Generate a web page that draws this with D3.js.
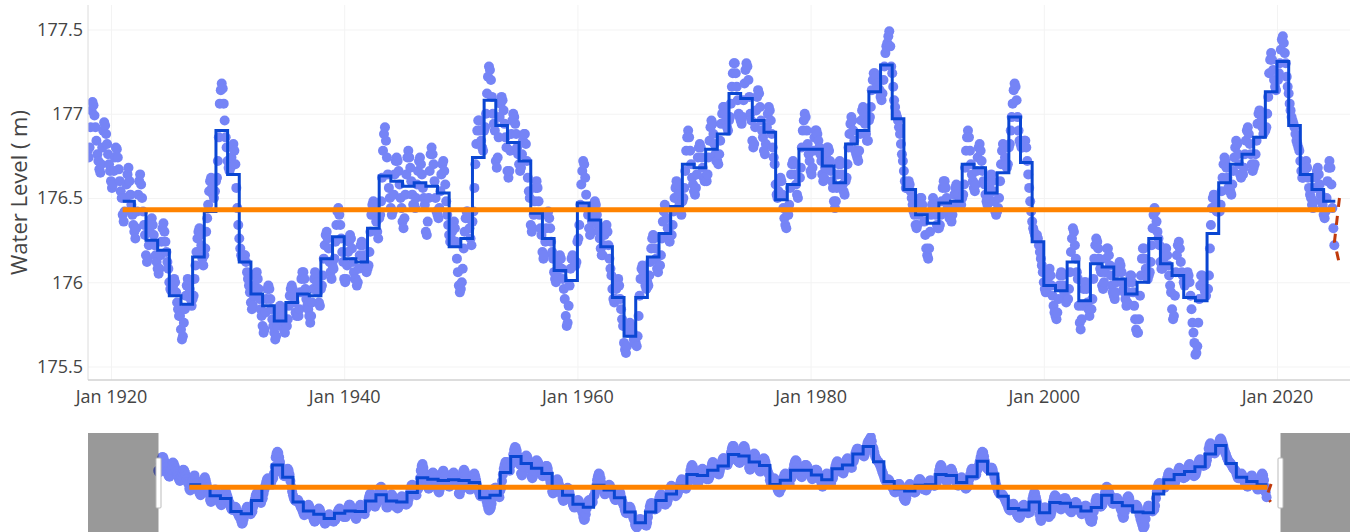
<!DOCTYPE html>
<html>
<head>
<meta charset="utf-8">
<script src="https://cdnjs.cloudflare.com/ajax/libs/d3/7.8.5/d3.min.js"></script>
<style>
  body { margin: 0; background: #fff; }
  svg { display: block; font-family: 'Open Sans', sans-serif; }
</style>
</head>
<body>
<script>
// monthly mean water level (m), one row per year, Jan..Dec
var FIRST_YEAR = 1918;
var monthlyLevels = [
  [176.78,176.74,176.80,176.92,177.02,177.07,177.05,176.99,176.92,176.84,176.76,176.72],
  [176.67,176.65,176.70,176.80,176.90,176.95,176.93,176.88,176.82,176.76,176.70,176.66],
  [176.60,176.56,176.58,176.66,176.74,176.80,176.79,176.74,176.67,176.60,176.54,176.50],
  [176.40,176.36,176.42,176.50,176.58,176.64,176.68,176.60,176.52,176.46,176.40,176.34],
  [176.30,176.26,176.32,176.42,176.52,176.60,176.64,176.58,176.50,176.42,176.34,176.28],
  [176.16,176.12,176.14,176.22,176.30,176.36,176.38,176.34,176.28,176.22,176.16,176.12],
  [176.08,176.05,176.08,176.16,176.24,176.32,176.35,176.30,176.24,176.18,176.12,176.08],
  [176.00,175.96,175.95,175.96,175.98,176.02,176.00,175.94,175.88,175.84,175.80,175.80],
  [175.72,175.66,175.68,175.76,175.84,175.92,175.98,176.02,176.00,175.96,175.90,175.86],
  [175.90,175.92,176.02,176.10,176.18,176.26,176.30,176.32,176.28,176.22,176.14,176.10],
  [176.16,176.20,176.30,176.38,176.46,176.54,176.60,176.62,176.56,176.52,176.50,176.54],
  [176.60,176.62,176.72,176.86,177.06,177.14,177.18,177.15,177.06,176.96,176.86,176.80],
  [176.72,176.68,176.66,176.68,176.74,176.80,176.82,176.78,176.70,176.56,176.44,176.34],
  [176.26,176.20,176.16,176.14,176.14,176.16,176.16,176.12,176.06,176.02,175.98,175.94],
  [175.88,175.84,175.86,175.92,175.98,176.04,176.06,176.02,175.96,175.90,175.84,175.80],
  [175.74,175.70,175.72,175.82,175.90,175.96,175.98,175.96,175.90,175.84,175.78,175.74],
  [175.70,175.66,175.68,175.74,175.80,175.84,175.86,175.84,175.80,175.76,175.72,175.70],
  [175.76,175.74,175.78,175.86,175.92,175.96,175.98,175.96,175.92,175.88,175.82,175.80],
  [175.82,175.80,175.84,175.94,176.02,176.06,176.06,176.02,175.96,175.90,175.86,175.84],
  [175.80,175.76,175.80,175.88,175.96,176.02,176.06,176.04,176.00,175.94,175.88,175.86],
  [175.96,175.98,176.04,176.14,176.22,176.28,176.30,176.26,176.20,176.12,176.06,176.02],
  [176.10,176.08,176.14,176.24,176.34,176.42,176.44,176.40,176.34,176.26,176.18,176.12],
  [176.02,176.00,176.02,176.10,176.18,176.24,176.28,176.26,176.20,176.12,176.06,176.02],
  [176.02,175.98,176.00,176.08,176.16,176.22,176.24,176.22,176.16,176.12,176.08,176.06],
  [176.08,176.10,176.18,176.30,176.40,176.46,176.48,176.46,176.42,176.36,176.30,176.26],
  [176.38,176.40,176.48,176.62,176.78,176.88,176.92,176.84,176.74,176.64,176.56,176.50],
  [176.44,176.40,176.42,176.52,176.64,176.72,176.74,176.72,176.66,176.58,176.50,176.44],
  [176.36,176.32,176.38,176.52,176.64,176.74,176.78,176.74,176.68,176.60,176.52,176.46],
  [176.46,176.44,176.50,176.58,176.66,176.72,176.74,176.70,176.64,176.56,176.50,176.46],
  [176.30,176.28,176.36,176.50,176.66,176.76,176.80,176.76,176.70,176.60,176.50,176.42],
  [176.40,176.38,176.44,176.54,176.64,176.70,176.72,176.66,176.58,176.48,176.40,176.34],
  [176.28,176.24,176.26,176.30,176.34,176.36,176.32,176.24,176.14,176.06,175.98,175.94],
  [175.96,176.00,176.08,176.20,176.30,176.38,176.42,176.42,176.38,176.32,176.26,176.22],
  [176.36,176.42,176.56,176.70,176.82,176.90,176.96,176.96,176.90,176.84,176.80,176.78],
  [176.90,176.92,177.00,177.12,177.22,177.28,177.26,177.20,177.10,177.00,176.94,176.90],
  [176.72,176.68,176.74,176.86,176.98,177.06,177.10,177.08,177.02,176.94,176.86,176.80],
  [176.66,176.62,176.66,176.78,176.88,176.96,177.00,176.98,176.94,176.88,176.80,176.76],
  [176.70,176.66,176.68,176.76,176.84,176.88,176.88,176.82,176.72,176.62,176.54,176.50],
  [176.34,176.30,176.32,176.40,176.48,176.56,176.60,176.56,176.48,176.40,176.32,176.28],
  [176.18,176.14,176.16,176.24,176.32,176.40,176.42,176.38,176.32,176.24,176.18,176.14],
  [176.06,176.02,176.00,176.04,176.10,176.14,176.16,176.14,176.08,176.02,175.96,175.90],
  [175.80,175.74,175.76,175.86,175.98,176.08,176.14,176.16,176.14,176.12,176.10,176.12],
  [176.24,176.26,176.34,176.46,176.58,176.66,176.72,176.70,176.62,176.52,176.44,176.40],
  [176.32,176.28,176.30,176.36,176.42,176.46,176.48,176.46,176.40,176.34,176.30,176.26],
  [176.20,176.16,176.16,176.22,176.28,176.32,176.34,176.30,176.22,176.14,176.08,176.04],
  [175.96,175.90,175.88,175.90,175.96,176.00,176.02,175.98,175.90,175.84,175.78,175.74],
  [175.64,175.60,175.58,175.62,175.70,175.74,175.76,175.74,175.72,175.70,175.66,175.64],
  [175.64,175.62,175.68,175.80,175.92,176.02,176.08,176.10,176.06,176.02,175.98,175.96],
  [176.00,175.98,176.04,176.12,176.20,176.26,176.28,176.26,176.20,176.14,176.08,176.06],
  [176.10,176.10,176.16,176.26,176.36,176.42,176.46,176.44,176.38,176.32,176.28,176.24],
  [176.28,176.28,176.34,176.42,176.50,176.56,176.60,176.58,176.52,176.46,176.42,176.40],
  [176.48,176.50,176.56,176.66,176.78,176.86,176.90,176.86,176.78,176.70,176.62,176.58],
  [176.54,176.52,176.56,176.64,176.74,176.80,176.82,176.80,176.74,176.68,176.62,176.60],
  [176.62,176.60,176.64,176.74,176.84,176.92,176.96,176.94,176.88,176.82,176.76,176.72],
  [176.72,176.70,176.76,176.84,176.94,177.00,177.04,177.04,177.00,176.96,176.92,176.90],
  [176.96,176.98,177.06,177.16,177.24,177.30,177.30,177.24,177.16,177.08,177.00,176.98],
  [176.96,176.94,176.98,177.08,177.18,177.26,177.30,177.28,177.20,177.10,177.00,176.96],
  [176.84,176.80,176.82,176.92,177.02,177.10,177.14,177.12,177.04,176.96,176.90,176.86],
  [176.78,176.76,176.82,176.92,177.00,177.04,177.02,176.96,176.88,176.80,176.74,176.70],
  [176.58,176.52,176.50,176.54,176.60,176.62,176.60,176.52,176.44,176.38,176.34,176.32],
  [176.40,176.40,176.46,176.56,176.64,176.70,176.72,176.70,176.64,176.58,176.52,176.50],
  [176.62,176.62,176.68,176.80,176.90,176.96,177.00,176.98,176.90,176.82,176.76,176.72],
  [176.66,176.64,176.68,176.78,176.86,176.90,176.90,176.88,176.84,176.80,176.76,176.72],
  [176.64,176.60,176.62,176.68,176.76,176.80,176.80,176.78,176.72,176.66,176.60,176.56],
  [176.48,176.44,176.48,176.56,176.64,176.70,176.72,176.70,176.64,176.58,176.54,176.52],
  [176.60,176.62,176.70,176.80,176.88,176.94,176.98,176.96,176.90,176.84,176.78,176.76],
  [176.74,176.72,176.78,176.88,176.96,177.02,177.04,177.00,176.94,176.88,176.84,176.84],
  [176.96,176.98,177.04,177.14,177.20,177.24,177.24,177.22,177.18,177.16,177.14,177.14],
  [177.10,177.08,177.12,177.20,177.28,177.36,177.40,177.42,177.46,177.49,177.40,177.28],
  [177.24,177.16,177.08,177.04,177.00,176.98,176.96,176.92,176.88,176.82,176.76,176.72],
  [176.66,176.60,176.56,176.56,176.58,176.60,176.58,176.54,176.50,176.46,176.42,176.40],
  [176.34,176.32,176.34,176.40,176.46,176.50,176.50,176.46,176.42,176.36,176.28,176.20],
  [176.16,176.14,176.20,176.30,176.40,176.46,176.50,176.48,176.44,176.40,176.34,176.32],
  [176.32,176.34,176.40,176.48,176.56,176.60,176.60,176.56,176.50,176.44,176.40,176.38],
  [176.38,176.36,176.40,176.46,176.52,176.56,176.58,176.56,176.52,176.48,176.46,176.46],
  [176.50,176.52,176.58,176.68,176.78,176.86,176.90,176.86,176.78,176.70,176.64,176.60],
  [176.56,176.54,176.58,176.66,176.74,176.80,176.82,176.78,176.72,176.66,176.60,176.58],
  [176.52,176.48,176.46,176.50,176.56,176.62,176.64,176.60,176.54,176.48,176.42,176.40],
  [176.42,176.44,176.50,176.60,176.70,176.78,176.82,176.80,176.74,176.70,176.68,176.70],
  [176.80,176.82,176.90,176.98,177.06,177.14,177.18,177.16,177.08,176.98,176.90,176.84],
  [176.82,176.80,176.80,176.82,176.84,176.84,176.80,176.72,176.64,176.56,176.48,176.42],
  [176.36,176.32,176.30,176.28,176.28,176.28,176.26,176.22,176.18,176.14,176.10,176.06],
  [176.00,175.96,175.94,175.96,176.02,176.06,176.08,176.04,175.98,175.92,175.86,175.82],
  [175.80,175.78,175.82,175.90,175.98,176.04,176.06,176.04,175.98,175.94,175.90,175.88],
  [175.90,175.90,175.96,176.06,176.18,176.26,176.32,176.30,176.22,176.14,176.06,176.02],
  [175.86,175.76,175.72,175.78,175.86,175.96,176.00,176.00,175.96,175.88,175.84,175.80],
  [175.84,175.84,175.90,176.02,176.14,176.22,176.26,176.24,176.20,176.14,176.08,176.06],
  [175.98,175.96,176.00,176.06,176.14,176.20,176.20,176.16,176.10,176.04,175.98,175.94],
  [175.92,175.90,175.94,176.00,176.06,176.10,176.12,176.10,176.06,176.00,175.96,175.94],
  [175.90,175.86,175.88,175.94,176.00,176.04,176.04,176.00,175.94,175.86,175.78,175.72],
  [175.70,175.70,175.78,175.92,176.04,176.14,176.20,176.20,176.14,176.08,176.04,176.02],
  [176.04,176.06,176.12,176.22,176.32,176.40,176.44,176.42,176.36,176.30,176.26,176.22],
  [176.12,176.08,176.08,176.12,176.16,176.20,176.20,176.16,176.10,176.04,175.98,175.94],
  [175.84,175.78,175.80,175.92,176.06,176.16,176.22,176.24,176.20,176.12,176.06,176.04],
  [176.00,175.98,176.02,176.04,176.06,176.04,176.00,175.92,175.84,175.76,175.70,175.64],
  [175.57,175.58,175.62,175.76,175.90,175.98,176.04,176.04,176.00,175.96,175.94,175.92],
  [175.96,175.96,176.04,176.20,176.34,176.44,176.50,176.52,176.50,176.46,176.42,176.42],
  [176.42,176.42,176.46,176.54,176.62,176.70,176.74,176.72,176.68,176.62,176.56,176.54],
  [176.54,176.52,176.58,176.66,176.74,176.80,176.84,176.82,176.76,176.70,176.64,176.62],
  [176.64,176.64,176.68,176.76,176.84,176.90,176.92,176.88,176.82,176.76,176.70,176.66],
  [176.68,176.70,176.76,176.84,176.94,177.00,177.02,177.00,176.96,176.92,176.88,176.90],
  [176.90,176.92,177.00,177.10,177.24,177.32,177.36,177.32,177.26,177.20,177.16,177.14],
  [177.20,177.20,177.24,177.30,177.38,177.44,177.46,177.42,177.36,177.30,177.22,177.16],
  [177.12,177.06,177.02,176.98,176.96,176.94,176.92,176.88,176.84,176.82,176.80,176.78],
  [176.72,176.66,176.62,176.62,176.66,176.70,176.72,176.68,176.62,176.56,176.52,176.50],
  [176.46,176.44,176.48,176.56,176.62,176.66,176.68,176.64,176.58,176.52,176.48,176.46],
  [176.40,176.38,176.42,176.50,176.60,176.68,176.72,176.68,176.58,176.44,176.32,176.22]
];

// annual mean level (m), drawn as a step from each January
var ANNUAL_FIRST_YEAR = 1921;
var annualLevels = [
  176.48, 176.43, 176.25, 176.19, 175.92, 175.87, 176.15, 176.42, 176.90, 176.64,
  176.12, 175.93, 175.86, 175.77, 175.88, 175.93, 175.92, 176.14, 176.27, 176.14,
  176.12, 176.32, 176.63, 176.60, 176.57, 176.59, 176.57, 176.53, 176.21, 176.26,
  176.74, 177.08, 176.93, 176.83, 176.72, 176.41, 176.26, 176.07, 176.01, 176.47,
  176.37, 176.21, 175.91, 175.68, 175.91, 176.15, 176.29, 176.45, 176.70, 176.68,
  176.79, 176.88, 177.12, 177.09, 176.96, 176.89, 176.49, 176.58, 176.79, 176.79,
  176.69, 176.59, 176.82, 176.90, 177.13, 177.29, 176.97, 176.55, 176.40, 176.35,
  176.47, 176.48, 176.70, 176.68, 176.53, 176.65, 176.98, 176.71, 176.24, 175.98,
  175.95, 176.12, 175.89, 176.11, 176.09, 176.02, 175.93, 176.00, 176.26, 176.11,
  176.04, 175.91, 175.89, 176.29, 176.59, 176.70, 176.76, 176.86, 177.13, 177.31,
  176.93, 176.64, 176.55, 176.48
];

// long-term average
var LONG_TERM_MEAN = 176.43;
var meanSpan = ['1921-01-01', '2025-01-01'];

// recent readings (dashed)
var recentDates = ['2025-05-10', '2024-12-05', '2025-04-25'];
var recentLevels = [176.50, 176.24, 176.12];

var yTicks = [175.5, 176, 176.5, 177, 177.5];
var xTickYears = [1920, 1940, 1960, 1980, 2000, 2020];

var W = 1350, H = 532;
var PLOT = { left: 88, right: 1350, top: 5, bottom: 380 };
var SLIDER = { left: 88, right: 1350, top: 433, bottom: 533 };

var DOT_COLOR = '#7584f6';
var STEP_COLOR = '#0a46d2';
var MEAN_COLOR = '#ff8300';
var RECENT_COLOR = '#c0390b';
var TEXT_COLOR = '#444';

var parse = d3.timeParse('%Y-%m-%d');

var points = [];
monthlyLevels.forEach(function(row, i) {
  row.forEach(function(v, m) {
    points.push({ date: new Date(FIRST_YEAR + i, m, 1), level: v });
  });
});

var steps = annualLevels.map(function(v, i) {
  return { date: new Date(ANNUAL_FIRST_YEAR + i, 0, 1), level: v };
});
steps.push({
  date: new Date(ANNUAL_FIRST_YEAR + annualLevels.length, 0, 1),
  level: annualLevels[annualLevels.length - 1]
});

var meanLine = meanSpan.map(function(d) { return { date: parse(d), level: LONG_TERM_MEAN }; });
var recent = recentDates.map(function(d, i) { return { date: parse(d), level: recentLevels[i] }; });

// main scales, calibrated on the tick positions then widened to the plot edges
var x = d3.scaleTime()
  .domain([new Date(1920, 0, 1), new Date(2020, 0, 1)])
  .range([111, 1277]);
x.domain([x.invert(PLOT.left), x.invert(PLOT.right)]).range([PLOT.left, PLOT.right]);

var y = d3.scaleLinear().domain([175.5, 177.5]).range([366.5, 29.5]);
y.domain([y.invert(PLOT.bottom), y.invert(PLOT.top)]).range([PLOT.bottom, PLOT.top]);

// range slider scales: the visible window sits inside a wider full range
var xs = d3.scaleTime().domain(x.domain()).range([158.5, 1280.5]);
xs.domain([xs.invert(SLIDER.left), xs.invert(SLIDER.right)]).range([SLIDER.left, SLIDER.right]);
var ys = d3.scaleLinear()
  .domain(d3.extent(points, function(d) { return d.level; }))
  .range([528, 437]);

var svg = d3.select('body').append('svg')
  .attr('width', W)
  .attr('height', H);

var defs = svg.append('defs');
defs.append('clipPath').attr('id', 'clip-main').append('rect')
  .attr('x', PLOT.left).attr('y', PLOT.top)
  .attr('width', PLOT.right - PLOT.left).attr('height', PLOT.bottom - PLOT.top);
defs.append('clipPath').attr('id', 'clip-slider').append('rect')
  .attr('x', SLIDER.left).attr('y', SLIDER.top)
  .attr('width', SLIDER.right - SLIDER.left).attr('height', SLIDER.bottom - SLIDER.top);

// grid
var grid = svg.append('g').attr('class', 'grid');
grid.append('g')
  .attr('transform', 'translate(' + PLOT.left + ',0)')
  .call(d3.axisLeft(y).tickValues(yTicks).tickSize(-(PLOT.right - PLOT.left)).tickFormat(''));
grid.append('g')
  .attr('transform', 'translate(0,' + PLOT.bottom + ')')
  .call(d3.axisBottom(x)
    .tickValues(xTickYears.map(function(yr) { return new Date(yr, 0, 1); }))
    .tickSize(-(PLOT.bottom - PLOT.top)).tickFormat(''));
grid.selectAll('.domain').remove();
grid.selectAll('line').attr('stroke', '#f3f3f3').attr('stroke-width', 1);

function drawTraces(g, sx, sy) {
  g.append('g').selectAll('circle')
      .data(points)
    .enter().append('circle')
      .attr('cx', function(d) { return sx(d.date); })
      .attr('cy', function(d) { return sy(d.level); })
      .attr('r', 5)
      .attr('fill', DOT_COLOR);

  g.append('path')
    .datum(steps)
    .attr('fill', 'none')
    .attr('stroke', STEP_COLOR)
    .attr('stroke-width', 3)
    .attr('d', d3.line()
      .curve(d3.curveStepAfter)
      .x(function(d) { return sx(d.date); })
      .y(function(d) { return sy(d.level); }));

  g.append('path')
    .datum(meanLine)
    .attr('fill', 'none')
    .attr('stroke', MEAN_COLOR)
    .attr('stroke-width', 5)
    .attr('d', d3.line()
      .x(function(d) { return sx(d.date); })
      .y(function(d) { return sy(d.level); }));

  g.append('path')
    .datum(recent)
    .attr('fill', 'none')
    .attr('stroke', RECENT_COLOR)
    .attr('stroke-width', 3)
    .attr('stroke-dasharray', '9,9')
    .attr('d', d3.line()
      .x(function(d) { return sx(d.date); })
      .y(function(d) { return sy(d.level); }));
}

drawTraces(svg.append('g').attr('clip-path', 'url(#clip-main)'), x, y);

// axis lines
svg.append('line')
  .attr('x1', PLOT.left).attr('x2', PLOT.left)
  .attr('y1', PLOT.top).attr('y2', PLOT.bottom)
  .attr('stroke', '#dcdcdc').attr('stroke-width', 1);
svg.append('line')
  .attr('x1', PLOT.left).attr('x2', PLOT.right)
  .attr('y1', PLOT.bottom).attr('y2', PLOT.bottom)
  .attr('stroke', '#d2d2d2').attr('stroke-width', 1.5);

// tick labels
var yAxis = svg.append('g')
  .attr('transform', 'translate(' + PLOT.left + ',0)')
  .call(d3.axisLeft(y).tickValues(yTicks).tickSize(0).tickPadding(5).tickFormat(d3.format('')));
var xAxis = svg.append('g')
  .attr('transform', 'translate(0,' + PLOT.bottom + ')')
  .call(d3.axisBottom(x)
    .tickValues(xTickYears.map(function(yr) { return new Date(yr, 0, 1); }))
    .tickSize(0).tickPadding(10).tickFormat(d3.timeFormat('%b %Y')));
[yAxis, xAxis].forEach(function(a) {
  a.select('.domain').remove();
  a.selectAll('text')
    .style('font-family', "'Open Sans', sans-serif")
    .style('font-size', '18px')
    .style('fill', TEXT_COLOR);
});

svg.append('text')
  .attr('transform', 'translate(27,' + ((PLOT.top + PLOT.bottom) / 2) + ') rotate(-90)')
  .style('text-anchor', 'middle')
  .style('font-size', '22px')
  .style('fill', TEXT_COLOR)
  .text('Water Level ( m)');

// range slider
var slider = svg.append('g');
slider.append('rect')
  .attr('x', SLIDER.left).attr('y', SLIDER.top)
  .attr('width', SLIDER.right - SLIDER.left).attr('height', SLIDER.bottom - SLIDER.top)
  .attr('fill', '#fff');
drawTraces(slider.append('g').attr('clip-path', 'url(#clip-slider)'), xs, ys);

var win = x.domain().map(function(d) { return xs(d); });
slider.append('rect')
  .attr('x', SLIDER.left).attr('y', SLIDER.top)
  .attr('width', win[0] - SLIDER.left).attr('height', SLIDER.bottom - SLIDER.top)
  .attr('fill', 'rgba(0,0,0,0.4)');
slider.append('rect')
  .attr('x', win[1]).attr('y', SLIDER.top)
  .attr('width', SLIDER.right - win[1]).attr('height', SLIDER.bottom - SLIDER.top)
  .attr('fill', 'rgba(0,0,0,0.4)');

var sliderH = SLIDER.bottom - SLIDER.top;
slider.selectAll('.handle')
    .data(win)
  .enter().append('rect')
    .attr('class', 'handle')
    .attr('x', function(d) { return d - 2.5; })
    .attr('y', SLIDER.top + sliderH / 4)
    .attr('width', 5)
    .attr('height', sliderH / 2)
    .attr('rx', 1)
    .attr('fill', '#fff')
    .attr('stroke', '#bbb')
    .attr('stroke-width', 1);
</script>
</body>
</html>
